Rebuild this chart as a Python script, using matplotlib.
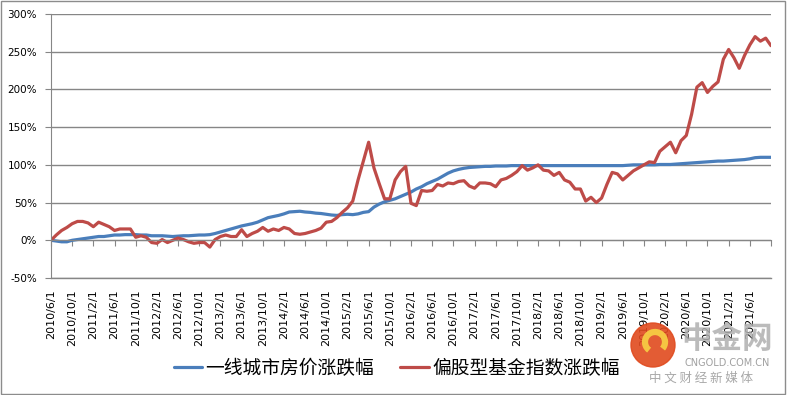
import matplotlib
matplotlib.use("Agg")
import matplotlib.pyplot as plt
from matplotlib.patches import Rectangle, Ellipse, Arc
import numpy as np

# monthly values from 2010/6/1, in percent
house = [0, -1, -2, -2, 0, 1, 2, 3, 4, 5,
         5, 6, 7, 7, 7.5, 7.5, 7.5, 7, 7, 6,
         6, 6, 5.5, 5, 5.5, 6, 6, 6.5, 7, 7,
         7.5, 9, 11, 13, 15, 17, 19, 20.5, 22, 24,
         27, 30, 31.5, 33, 35, 37.5, 38, 38.5, 37.5, 37,
         36, 35.5, 34.5, 33.5, 33, 34, 34.5, 34, 35, 37,
         38, 44, 48, 51, 53, 55, 58, 61, 64, 68,
         71, 75, 78, 81, 85, 89, 92, 94, 95.5, 96.5,
         97, 97.5, 98, 98, 98.5, 98.5, 98.5, 99, 99, 99,
         99, 99, 99, 99, 99, 99, 99, 99, 99, 99,
         99, 99, 99, 99, 99, 99, 99, 99, 99, 99.5,
         100, 100, 100, 100, 100, 100.5, 100.5, 100.5, 101, 101.5,
         102, 102.5, 103, 103.5, 104, 104.5, 105, 105, 105.5, 106,
         106.5, 107, 108, 109.5, 110, 110, 110]

fund = [0, 7, 13, 17, 22, 25, 25, 23, 18, 24,
        21, 18, 13, 15, 15, 15, 4, 6, 4, -3,
        -4, 1, -3, 0, 3, 1, -2, -4, -3, -3,
        -9, 1, 5, 7, 5, 5, 14, 5, 9, 12,
        17, 12, 15, 13, 17, 15, 9, 8, 9, 11,
        13, 16, 24, 25, 30, 37, 43, 52, 80, 105,
        130, 96, 75, 55, 55, 80, 91, 98, 49, 46,
        66, 65, 66, 74, 72, 76, 75, 78, 79, 72,
        69, 76, 76, 75, 71, 80, 82, 86, 91, 99,
        93, 96, 100, 93, 92, 86, 90, 80, 77, 68,
        68, 52, 57, 50, 56, 74, 90, 88, 80, 86,
        92, 96, 100, 104, 103, 118, 124, 130, 116, 132,
        139, 167, 203, 209, 196, 204, 210, 240, 253, 242,
        228, 245, 259, 270, 264, 268, 258]

house_label = "一线城市房价涨跌幅"
fund_label = "偏股型基金指数涨跌幅"

y_ticks = [-50, 0, 50, 100, 150, 200, 250, 300]
n_months = len(fund)
start_year, start_month = 2010, 6

months = np.arange(n_months)
tick_pos = np.arange(0, n_months, 4)
tick_labels = []
for m in tick_pos:
    k = start_month - 1 + m
    tick_labels.append(f"{start_year + k // 12}/{k % 12 + 1}/1")
tick_labels[-1] = ""  # no label on the last tick in the original

plt.rcParams['font.family'] = ['DejaVu Sans', 'Noto Sans CJK SC']
grey = "#868686"

fig = plt.figure(figsize=(7.87, 3.95), dpi=100)
ax = fig.add_axes([51 / 787, 1 - 278 / 395, 720 / 787, 264 / 395])

ax.plot(months, house, color="#4A7EBB", lw=2.3, label=house_label, solid_capstyle="round")
ax.plot(months, fund, color="#BE4B48", lw=2.3, label=fund_label, solid_capstyle="round")

ax.set_xlim(0, n_months - 1)
ax.set_ylim(-50, 300)
ax.set_yticks(y_ticks)
ax.set_yticklabels([f"{v}%" for v in y_ticks], fontsize=7.5)
ax.yaxis.grid(True, color=grey, lw=1)
ax.axhline(y_ticks[0], color=grey, lw=1, clip_on=False, zorder=0)
ax.set_axisbelow(True)

# category axis crosses at 0, labels sit low under the plot
ax.spines['bottom'].set_position(('data', 0))
ax.spines['bottom'].set_color(grey)
ax.spines['left'].set_color(grey)
ax.spines['top'].set_visible(False)
ax.spines['right'].set_visible(False)
ax.set_xticks(tick_pos)
ax.set_xticklabels(tick_labels, rotation=90, fontsize=8, va="top")
ax.tick_params(axis='x', length=4, color=grey, pad=31)
ax.tick_params(axis='y', length=4, color=grey, pad=6)

leg = fig.legend(loc="center", bbox_to_anchor=(0.504, 0.068), ncol=2, frameon=False,
                 prop={'family': ['Noto Sans CJK SC'], 'size': 13.5},
                 handlelength=1.5, handletextpad=0.2, columnspacing=1.4)

# watermark logo in the corner
logo = Ellipse((653 / 787, 1 - 345 / 395), 44 / 787, 44 / 395, transform=fig.transFigure,
               color="#E04A1E", alpha=0.9, zorder=10)
fig.patches.append(logo)
swirl = Arc((655 / 787, 1 - 342 / 395), 20 / 787, 20 / 395, theta1=-60, theta2=250,
            transform=fig.transFigure, color="#F5C542", lw=4.5, zorder=11)
fig.patches.append(swirl)
fig.text(727 / 787, 1 - 339 / 395, "中金网", family=['Noto Sans CJK SC'], fontsize=22,
         fontweight="bold", color="#b0b0b0", ha="center", va="center", alpha=0.85, zorder=12)
fig.text(727 / 787, 1 - 363 / 395, "CNGOLD.COM.CN", fontsize=7, color="#a0a0a0",
         ha="center", va="center", zorder=12)
fig.text(701 / 787, 1 - 378 / 395, "中 文 财 经 新 媒 体", family=['Noto Sans CJK SC'],
         fontsize=9, color="#a8a8a8", ha="center", va="center", zorder=12)

# outer chart border
fig.patches.append(Rectangle((0.001, 0.002), 0.997, 0.996, transform=fig.transFigure,
                             fill=False, edgecolor="#8c8c8c", lw=1))

fig.savefig("out.png", dpi=100)
